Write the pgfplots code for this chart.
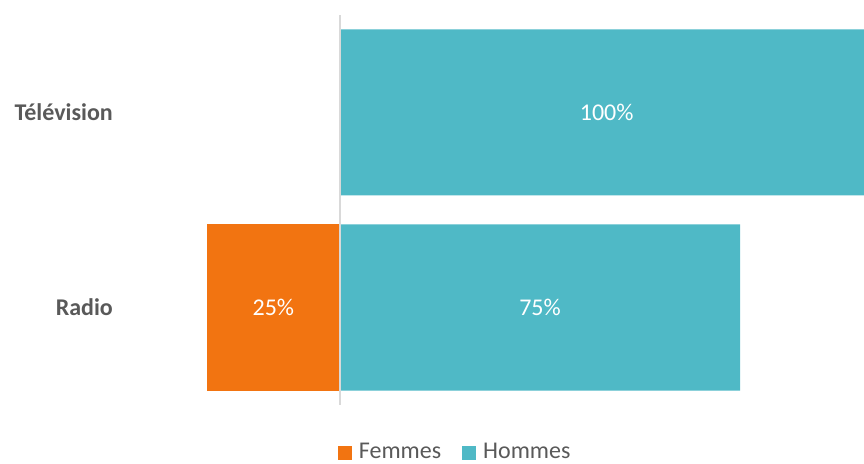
\documentclass[border=0pt]{standalone}
\usepackage{pgfplots}
\pgfplotsset{compat=1.18}
\usepackage{fontspec}
\setmainfont{Carlito}
\definecolor{femmes}{HTML}{F27411}
\definecolor{hommes}{HTML}{4FB9C6}
\definecolor{txt}{HTML}{595959}
\definecolor{zl}{HTML}{D9D9D9}
\begin{document}
\fontsize{24bp}{28bp}\selectfont
\begin{tikzpicture}
\useasboundingbox (0,0) rectangle (864bp,464bp);
\begin{axis}[
  at={(130bp,59bp)}, anchor=south west,
  scale only axis, width=734bp, height=390bp,
  xmin=-39.375, xmax=98.25, ymin=-0.5, ymax=1.5,
  bar width=166bp,
  axis line style={draw=none},
  xtick=\empty, ytick={0,1}, yticklabels={Radio,Télévision},
  major tick length=0pt,
  yticklabel style={font=\fontsize{24bp}{28bp}\selectfont\bfseries, text=txt, xshift=-9bp},
  legend style={at={(0.443,-0.122)}, anchor=center, draw=none, fill=none,
    font=\fontsize{24bp}{28bp}\selectfont, text=txt, legend columns=2,
    /tikz/every odd column/.append style={column sep=5bp},
    /tikz/every even column/.append style={column sep=19bp}},
]
\addplot[xbar, bar shift=0pt, fill=femmes, draw=none,
  legend image code/.code={\fill[femmes] (0bp,-7bp) rectangle (14bp,7bp);}]
  coordinates {(-25,0)};
\addlegendentry{Femmes}
\addplot[xbar, bar shift=0pt, fill=hommes, draw=none,
  legend image code/.code={\fill[hommes] (0bp,-7bp) rectangle (14bp,7bp);}]
  coordinates {(75,0) (100,1)};
\addlegendentry{Hommes}
\draw[zl, line width=2bp] (axis cs:0,-0.5) -- (axis cs:0,1.5);
\addplot[forget plot, draw=none, mark=none, point meta=explicit symbolic,
  nodes near coords, nodes near coords style={anchor=center, text=white, font=\fontsize{24bp}{28bp}\selectfont}]
  coordinates {(-12.5,0) [25\%] (37.5,0) [75\%] (50,1) [100\%]};
\end{axis}
\end{tikzpicture}
\end{document}
